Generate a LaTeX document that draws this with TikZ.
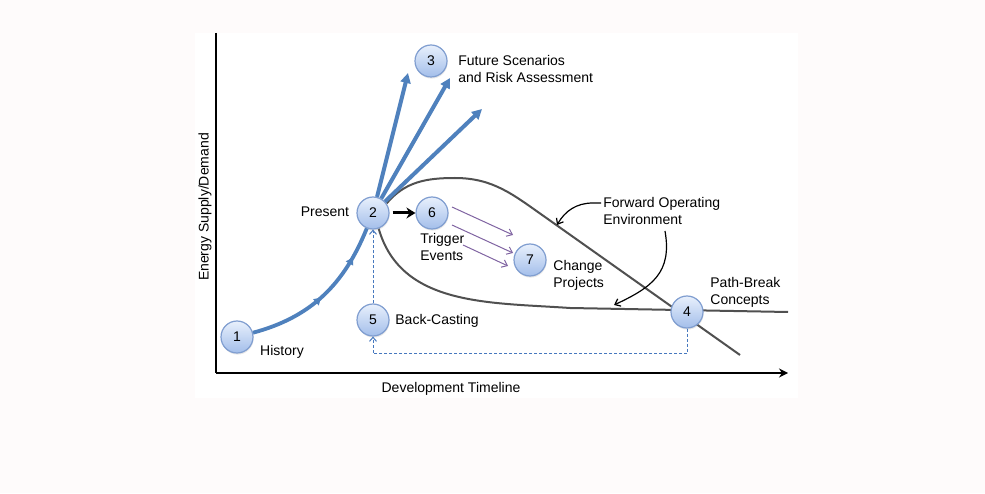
\documentclass[tikz,border=0pt]{standalone}
\usepackage{fontspec}
\setmainfont{Liberation Sans}
\usetikzlibrary{arrows.meta,decorations.markings,shadows}
\definecolor{steel}{RGB}{79,129,189}
\definecolor{dashblue}{RGB}{70,120,190}
\definecolor{ballrim}{RGB}{128,158,208}
\definecolor{balltop}{RGB}{232,240,252}
\definecolor{ballbot}{RGB}{163,190,234}
\definecolor{loopgray}{RGB}{80,80,80}
\definecolor{trigpurple}{RGB}{128,100,162}
\definecolor{paper}{RGB}{254,251,251}
\pgfdeclarelayer{bg}
\pgfsetlayers{bg,main}

\begin{document}
\begin{tikzpicture}[x=0.5pt, y=0.5pt, font=\fontsize{7pt}{8.5pt}\selectfont,
    stage/.style={circle, draw=ballrim, line width=0.6pt, top color=balltop, bottom color=ballbot,
      minimum size=16pt, inner sep=0pt,
      drop shadow={opacity=0.18, shadow xshift=0.3pt, shadow yshift=-0.8pt}},
    note/.style={align=left, inner sep=0pt},
    scenario/.style={steel, line width=2pt, -{Triangle[length=5pt, width=5pt]}},
    history/.style={steel, line width=1.9pt, postaction={decorate},
      decoration={markings,
        mark=at position 0.48 with {\arrow{Triangle[length=3.5pt, width=4pt]}},
        mark=at position 0.8 with {\arrow{Triangle[length=3.5pt, width=4pt]}}}},
    trigger/.style={trigpurple, line width=0.5pt, -{Straight Barb[length=2.5pt, width=4pt]}},
    backcast/.style={dashblue, line width=0.5pt, dash pattern=on 1.5pt off 1pt,
      -{Straight Barb[length=2pt, width=3.5pt]}},
    pointer/.style={black, line width=0.6pt, -{Straight Barb[length=2.5pt, width=4pt]}},
    bound/.style={loopgray, line width=1pt}]

  \useasboundingbox (0,0) rectangle (985,493);

  % axes
  \coordinate (orig) at (216,120);
  \coordinate (ytop) at (216,460);
  \coordinate (xend) at (788,120);
  \draw[line width=1pt] (ytop) -- (orig);
  \draw[line width=1pt, -{Stealth[length=4.5pt, width=4.5pt, inset=1.5pt]}] (orig) -- (xend);
  \node[note] (xlbl) at (451,104) {Development Timeline};
  \node[note, rotate=90] (ylbl) at (205,286) {Energy Supply/Demand};

  % stages
  \node[stage] (n1) at (237,156) {1};
  \node[stage] (n2) at (373,280) {2};
  \node[stage] (n3) at (431,432) {3};
  \node[stage] (n4) at (687,181) {4};
  \node[stage] (n5) at (373,173) {5};
  \node[stage] (n6) at (432,280) {6};
  \node[stage] (n7) at (530,233) {7};

  % labels
  \node[note] (histlbl) at (282,141) {History};
  \node[note] (preslbl) at (325,281) {Present};
  \node[note, anchor=west] (futlbl) at (458,424) {Future Scenarios\\and Risk Assessment};
  \node[note, anchor=west] (fwdlbl) at (603,282) {Forward Operating\\Environment};
  \node[note, anchor=west] (triglbl) at (420,246) {Trigger\\Events};
  \node[note, anchor=west] (chglbl) at (553,218) {Change\\Projects};
  \node[note, anchor=west] (pathlbl) at (710,201) {Path-Break\\Concepts};
  \node[note, anchor=west] (backlbl) at (395,172) {Back-Casting};

  % page, frame and forward operating envelope
  \begin{pgfonlayer}{bg}
    \fill[paper] (0,0) rectangle (985,493);
    \fill[white] (195,95) rectangle (798,460);
    \draw[bound] (n2.35) to[out=50, in=180] (455,315) to[out=0, in=145] (545,276) -- (740,138);
    \draw[bound] (n2.-70) to[out=-74, in=176] (570,185) -- (788,181);
  \end{pgfonlayer}

  % history and scenarios
  \draw[history] (n1) to[out=15, in=-112] (n2);
  \coordinate (futA) at (408,420);
  \coordinate (futB) at (450,415);
  \coordinate (futC) at (482,384);
  \draw[scenario] (n2) -- (futA);
  \draw[scenario] (n2) -- (futB);
  \draw[scenario] (n2) -- (futC);
  \draw[line width=1.5pt, shorten <=1.5pt, -{Stealth[length=4.5pt, width=5.5pt, inset=1.5pt]}] (n2) -- (n6);

  % trigger events
  \coordinate (trA0) at (452,286);
  \coordinate (trA1) at (513,258);
  \coordinate (trB0) at (452,268);
  \coordinate (trB1) at (513,240);
  \coordinate (trC0) at (463,248);
  \coordinate (trC1) at (508,227);
  \draw[trigger] (trA0) -- (trA1);
  \draw[trigger] (trB0) -- (trB1);
  \draw[trigger] (trC0) -- (trC1);

  % pointers from the envelope label
  \coordinate (fwdA) at (601,290);
  \coordinate (fwdtipA) at (557,268);
  \coordinate (fwdB) at (665,262);
  \coordinate (fwdtipB) at (614,188);
  \draw[pointer] (fwdA) -- ++(-8,0) to[out=180, in=60] (fwdtipA);
  \draw[pointer] (fwdB) to[out=-80, in=25, looseness=1.2] (fwdtipB);

  % back-casting
  \draw[backcast] (n4.south) -- ++(0,-25) -| (n5.south);
  \draw[backcast] (n5) -- (n2);
\end{tikzpicture}
\end{document}
